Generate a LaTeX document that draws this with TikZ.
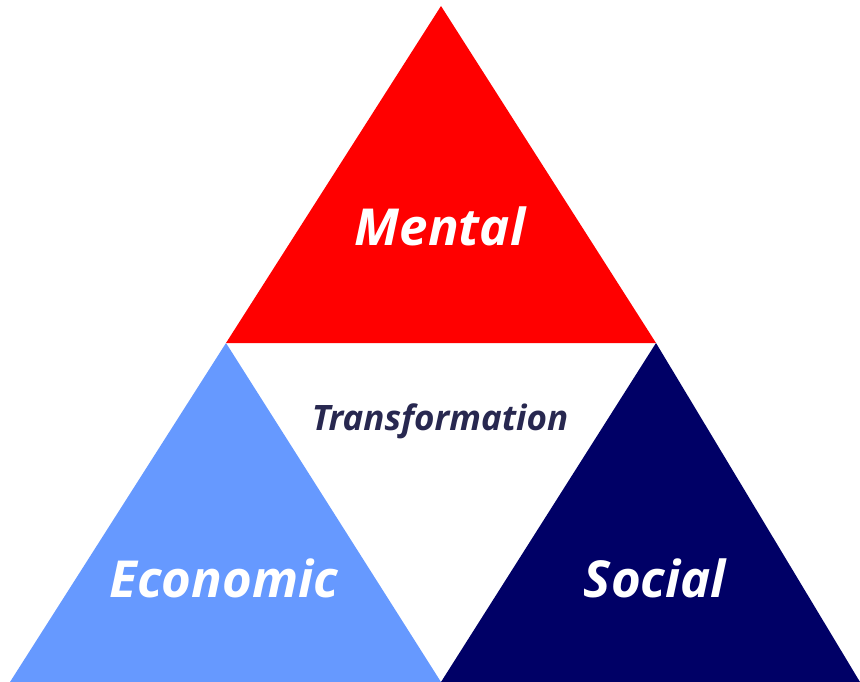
\documentclass[tikz,border=0pt]{standalone}
\usepackage{fontspec}
\setmainfont{Open Sans}
\usepackage{tikz}
\usetikzlibrary{calc}
\definecolor{mentalred}{RGB}{255,0,0}
\definecolor{econblue}{RGB}{102,153,255}
\definecolor{socialnavy}{RGB}{0,0,102}
\definecolor{transtext}{RGB}{40,40,80}
\tikzset{
    label/.style={font=\fontsize{51}{51}\selectfont\bfseries\itshape, text=white, inner sep=0pt, anchor=base},
}
\begin{document}
\begin{tikzpicture}[x=1pt, y=-1pt]
    \useasboundingbox (0,0) rectangle (860,682);
    % corners
    \coordinate (top) at (441,6);
    \coordinate (ml) at (226,343);
    \coordinate (mr) at (656,343);
    \coordinate (bl) at (10,682);
    \coordinate (bm) at (441,682);
    \coordinate (br) at (860,682);
    \fill[mentalred] (top) -- (ml) -- (mr) -- cycle;
    \fill[econblue] (ml) -- (bl) -- (bm) -- cycle;
    \fill[socialnavy] (mr) -- (bm) -- (br) -- cycle;
    \node[label] (mental) at (440,245) {Mental};
    \node[label, text=transtext, font=\fontsize{35}{35}\selectfont\bfseries\itshape] (trans) at (440,430) {Transformation};
    \node[label] (econ) at (224,597) {Economic};
    \node[label] (social) at (655,597) {Social};
\end{tikzpicture}
\end{document}
